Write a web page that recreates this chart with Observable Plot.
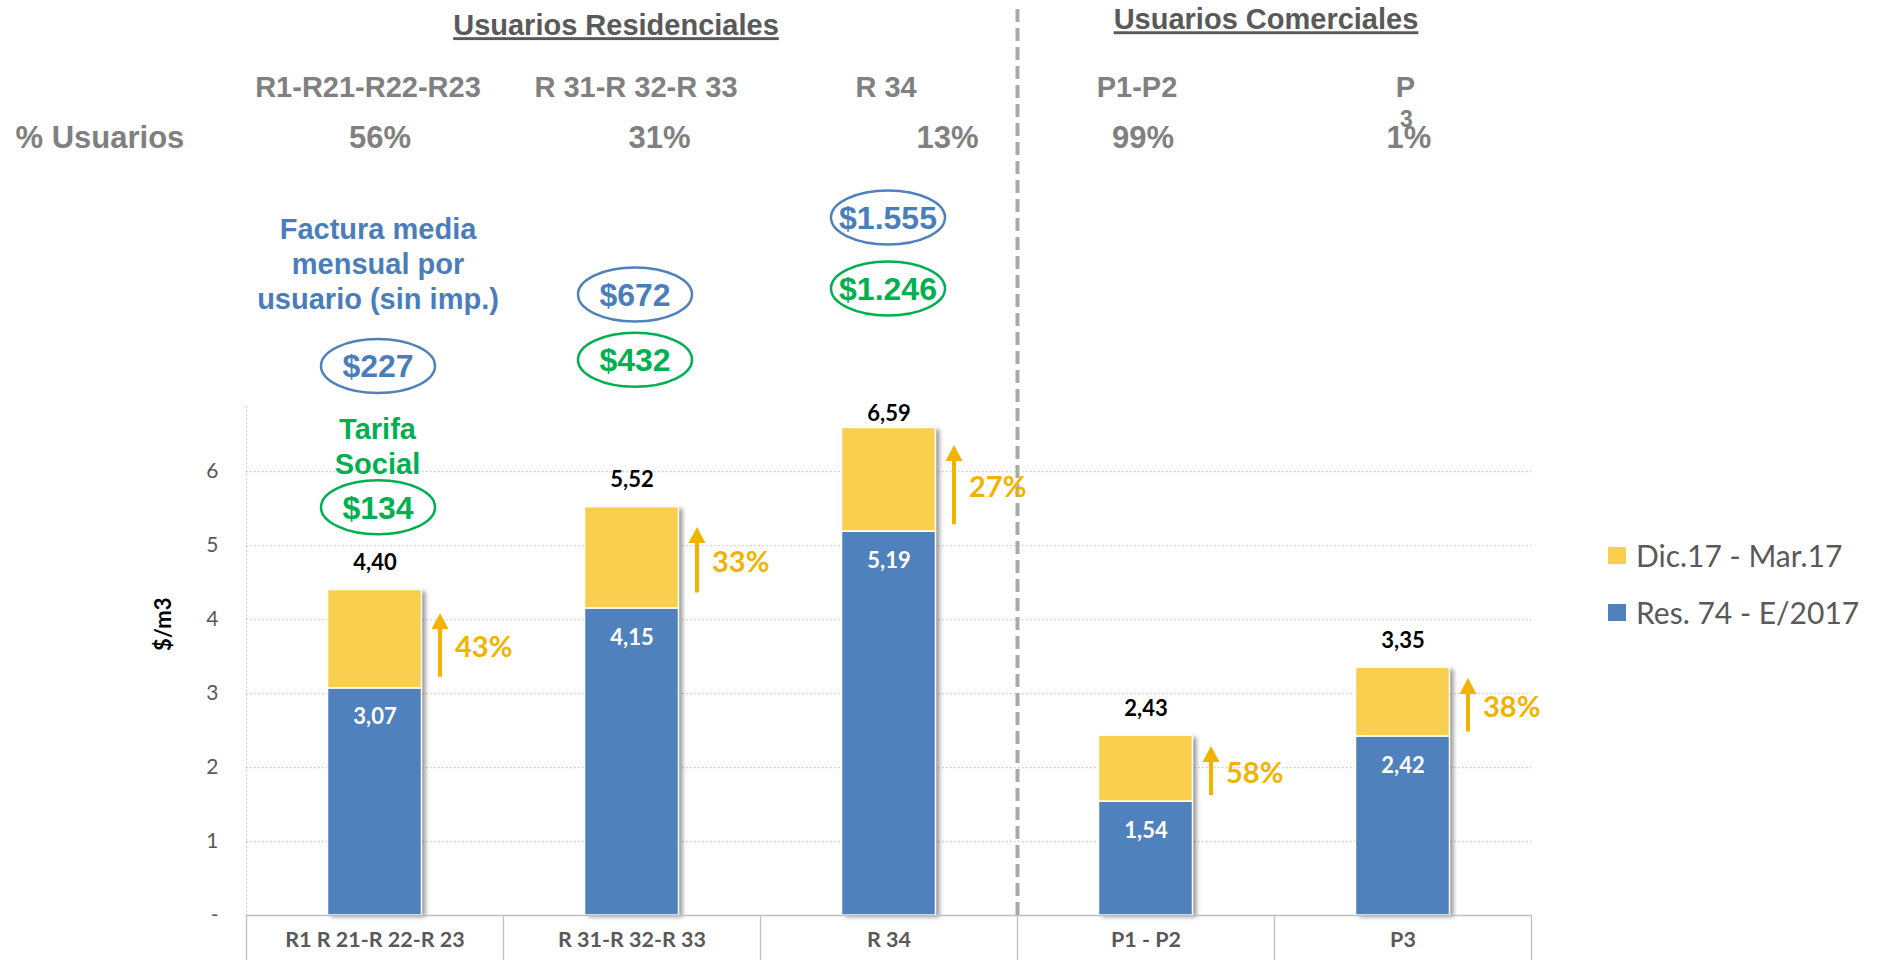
<!DOCTYPE html>
<html>
<head>
<meta charset="utf-8">
<script src="https://cdn.jsdelivr.net/npm/d3@7"></script>
<script src="https://cdn.jsdelivr.net/npm/@observablehq/plot@0.6"></script>
<style>
  html, body { margin: 0; padding: 0; background: #fff; }
  #wrap { position: relative; width: 1878px; height: 960px; overflow: hidden; }
  .leg { position: absolute; display: flex; align-items: center; height: 40px;
         font-family: Lato, "Open Sans", sans-serif; font-size: 30px; color: #595959; white-space: nowrap; }
  .leg .sw { width: 18px; height: 17px; margin-right: 10px; }
</style>
</head>
<body>
<div id="wrap"></div>
<script>
// ---------------- data ----------------
const categories   = ["R1 R 21-R 22-R 23", "R 31-R 32-R 33", "R 34", "P1 - P2", "P3"];
const seriesNames  = ["Res. 74 - E/2017", "Dic.17 - Mar.17"];
const resValues    = [3.07, 4.15, 5.19, 1.54, 2.42];   // Res. 74 - E/2017
const totalValues  = [4.40, 5.52, 6.59, 2.43, 3.35];   // total after Dic.17 - Mar.17
const increasePct  = ["43%", "33%", "27%", "58%", "38%"];
const arrowStart   = [3.22, 4.36, 5.28, 1.62, 2.48];
const arrowEnd     = [4.09, 5.25, 6.36, 2.29, 3.21];
const yTicks       = [0, 1, 2, 3, 4, 5, 6];
const groupTitles  = ["Usuarios Residenciales", "Usuarios Comerciales"];
const classLabels  = ["R1-R21-R22-R23", "R 31-R 32-R 33", "R 34", "P1-P2", "P"];
const userShare    = ["56%", "31%", "13%", "99%", "1%"];
const facturaMedia = ["$227", "$672", "$1.555"];
const tarifaSocial = ["$134", "$432", "$1.246"];

// ---------------- layout / style ----------------
const W = 1878, H = 960;
const M = {top: 406, right: 347, bottom: 45, left: 246};
const Y_MAX = 6.88;
const PXU = (H - M.top - M.bottom) / Y_MAX;            // pixels per y unit
const py = p => (H - M.bottom - p) / PXU;              // annotation pixel row -> y value
const BW = (W - M.left - M.right) / categories.length; // band width
const BAR_W = 94;
const INSET = (BW - BAR_W) / 2;
const BLUE = "#4f81bd", YELLOW = "#f9cf50", ORANGE = "#f0b400", GREEN = "#00b050", TBLUE = "#4a7ebb";
const ARIAL = "'Liberation Sans', Arial, sans-serif";
const CAL = "Lato, 'Open Sans', sans-serif";
const totalLift = [27, 27, 14, 27, 27];
const classDx = [-7, 4, -3, -9, 2.5];
const shareDx = [5, 27.5, 58.5, -3, 6];
const bubbleDx = [3, 3, -1];
const facturaPy = [365.5, 294, 217];
const tarifaPy = [506.8, 359.3, 288];

const fmt = v => d3.format(".2f")(v).replace(".", ",");
const rows = categories.map((c, i) => ({
  cat: c, base: resValues[i], total: totalValues[i], pct: increasePct[i],
  a0: arrowStart[i], a1: arrowEnd[i]
}));

// custom symbols
const ellipseSym = {
  draw(ctx) {
    const rx = 57, ry = 27, k = 0.5523;
    ctx.moveTo(rx, 0);
    ctx.bezierCurveTo(rx, ry * k, rx * k, ry, 0, ry);
    ctx.bezierCurveTo(-rx * k, ry, -rx, ry * k, -rx, 0);
    ctx.bezierCurveTo(-rx, -ry * k, -rx * k, -ry, 0, -ry);
    ctx.bezierCurveTo(rx * k, -ry, rx, -ry * k, rx, 0);
    ctx.closePath();
  }
};
const headSym = {
  draw(ctx) { ctx.moveTo(0, 0); ctx.lineTo(8.5, 16); ctx.lineTo(-8.5, 16); ctx.closePath(); }
};

const label = (cat, text, pyc, dx, opts) =>
  Plot.text([text], {x: () => cat, y: () => py(pyc), text: d => d, dx, ...opts});

const headStyle = {fontFamily: ARIAL, fontWeight: "bold", fill: "#808080"};

const marks = [
  // grid + dotted axis line
  Plot.ruleY(yTicks.filter(d => d > 0), {stroke: "#c8c8c8", strokeWidth: 1.3, strokeDasharray: "1.5,2.5"}),
  Plot.ruleX([categories[0]], {x: d => d, dx: -BW / 2, stroke: "#c8c8c8", strokeWidth: 1.3, strokeDasharray: "1.5,2.5"}),
  // bar shadow
  Plot.barY(rows, {x: "cat", y1: 0, y2: "total", insetLeft: INSET, insetRight: INSET, dx: 4, dy: 2, fill: "#000", fillOpacity: 0.4}),
  // stacked bars
  Plot.barY(rows, {x: "cat", y1: 0, y2: "base", insetLeft: INSET, insetRight: INSET, fill: BLUE, stroke: "#fff", strokeWidth: 1.5}),
  Plot.barY(rows, {x: "cat", y1: "base", y2: "total", insetLeft: INSET, insetRight: INSET, fill: YELLOW, stroke: "#fff", strokeWidth: 1.5}),
  // baseline + table lines
  Plot.ruleY([0], {stroke: "#bfbfbf", strokeWidth: 1.5}),
  Plot.ruleX(categories, {x: d => d, dx: -BW / 2, y1: 0, y2: 0, insetBottom: -M.bottom, stroke: "#bfbfbf", strokeWidth: 1.3}),
  Plot.ruleX([categories[categories.length - 1]], {x: d => d, dx: BW / 2, y1: 0, y2: 0, insetBottom: -M.bottom, stroke: "#bfbfbf", strokeWidth: 1.3}),
  // dashed separator residencial / comercial
  Plot.ruleX([categories[3]], {x: d => d, dx: -BW / 2, y1: 0, y2: py(5), stroke: "#aaaaaa", strokeWidth: 4, strokeDasharray: "13,6"}),
  // y tick labels
  Plot.text(yTicks, {y: d => d, text: d => d === 0 ? "-" : String(d), frameAnchor: "left", dx: -28, textAnchor: "end",
    fontFamily: CAL, fontSize: 21, fill: "#595959"}),
  Plot.text(["$/m3"], {text: d => d, frameAnchor: "left", dx: -83, dy: -10, rotate: -90,
    fontFamily: CAL, fontSize: 22, fontWeight: "bold", fill: "#000"}),
  // x category labels
  Plot.text(categories, {x: d => d, text: d => d, frameAnchor: "bottom", dy: 31,
    fontFamily: CAL, fontSize: 21.5, fontWeight: "bold", fill: "#595959"}),
  // value labels
  Plot.text(rows, {x: "cat", y: (d, i) => d.total + totalLift[i] / PXU, text: d => fmt(d.total),
    fontFamily: CAL, fontSize: 22, fontWeight: "bold", fill: "#000"}),
  Plot.text(rows, {x: "cat", y: "base", text: d => fmt(d.base), dy: 29,
    fontFamily: CAL, fontSize: 22, fontWeight: "bold", fill: "#fff"}),
  // increase arrows
  Plot.ruleX(rows, {x: "cat", dx: BAR_W / 2 + 18, y1: "a0", y2: d => d.a1 - 14 / PXU, stroke: ORANGE, strokeWidth: 4}),
  Plot.dot(rows, {x: "cat", y: "a1", dx: BAR_W / 2 + 18, symbol: headSym, fill: ORANGE, stroke: "none"}),
  Plot.text(rows, {x: "cat", y: d => (d.a0 + d.a1) / 2, text: "pct", dx: BAR_W / 2 + 33, dy: 3, textAnchor: "start",
    fontFamily: CAL, fontSize: 29, fontWeight: "bold", fill: ORANGE}),
  // header: group titles
  label(categories[1], groupTitles[0], 25.4, -16, {fontFamily: ARIAL, fontWeight: "bold", fontSize: 29, fill: "#595959"}),
  label(categories[4], groupTitles[1], 19.5, -137, {fontFamily: ARIAL, fontWeight: "bold", fontSize: 29, fill: "#595959"}),
  // class labels and share of users
  ...categories.map((c, i) => label(c, classLabels[i], 87.4, classDx[i], {...headStyle, fontSize: 29})),
  label(categories[4], "3", 119, 3.5, {...headStyle, fontSize: 23}),
  ...categories.map((c, i) => label(c, userShare[i], 137.5, shareDx[i], {...headStyle, fontSize: 31})),
  Plot.text(["% Usuarios"], {text: d => d, frameAnchor: "left", dx: 15 - M.left, y: () => py(137.5), textAnchor: "start",
    ...headStyle, fontSize: 31}),
  // factura media / tarifa social annotations
  label(categories[0], "Factura media\nmensual por\nusuario (sin imp.)", 262.5, 3,
    {fontFamily: ARIAL, fontWeight: "bold", fontSize: 29, fill: TBLUE, lineHeight: 1.2}),
  label(categories[0], "Tarifa\nSocial", 445, 2.5,
    {fontFamily: ARIAL, fontWeight: "bold", fontSize: 29, fill: GREEN, lineHeight: 1.2}),
  ...facturaMedia.map((t, i) => Plot.dot([t], {x: () => categories[i], y: () => py(facturaPy[i]), dx: bubbleDx[i],
    symbol: ellipseSym, fill: "none", stroke: BLUE, strokeWidth: 2.5})),
  ...facturaMedia.map((t, i) => label(categories[i], t, facturaPy[i] + 1, bubbleDx[i],
    {fontFamily: ARIAL, fontWeight: "bold", fontSize: 32, fill: TBLUE})),
  ...tarifaSocial.map((t, i) => Plot.dot([t], {x: () => categories[i], y: () => py(tarifaPy[i]), dx: bubbleDx[i],
    symbol: ellipseSym, fill: "none", stroke: GREEN, strokeWidth: 2.5})),
  ...tarifaSocial.map((t, i) => label(categories[i], t, tarifaPy[i] + 1, bubbleDx[i],
    {fontFamily: ARIAL, fontWeight: "bold", fontSize: 32, fill: GREEN}))
];

const svg = Plot.plot({
  width: W, height: H,
  marginTop: M.top, marginRight: M.right, marginBottom: M.bottom, marginLeft: M.left,
  x: {type: "band", domain: categories, padding: 0, axis: null},
  y: {domain: [0, Y_MAX], axis: null},
  style: {background: "#fff", overflow: "visible", fontFamily: CAL},
  marks
});

// soft shadow filter for the first bar layer
const s = d3.select(svg);
const defs = s.insert("defs", ":first-child");
defs.append("filter").attr("id", "bshadow").attr("x", "-20%").attr("y", "-5%").attr("width", "140%").attr("height", "110%")
  .append("feGaussianBlur").attr("stdDeviation", 2.2);
s.select('g[aria-label="bar"]').attr("filter", "url(#bshadow)");
// underline group titles
s.selectAll("text").filter(function() { return groupTitles.includes(this.textContent); })
  .style("text-decoration", "underline");

const wrap = document.getElementById("wrap");
wrap.appendChild(svg);

// legend (right side)
const legendItems = [
  {name: seriesNames[1], color: YELLOW, cy: 555},
  {name: seriesNames[0], color: BLUE, cy: 612}
];
legendItems.forEach(it => {
  const d = d3.select(wrap).append("div").attr("class", "leg")
    .style("left", "1608px").style("top", (it.cy - 20) + "px");
  d.append("div").attr("class", "sw").style("background", it.color);
  d.append("span").text(it.name);
});
</script>
</body>
</html>
